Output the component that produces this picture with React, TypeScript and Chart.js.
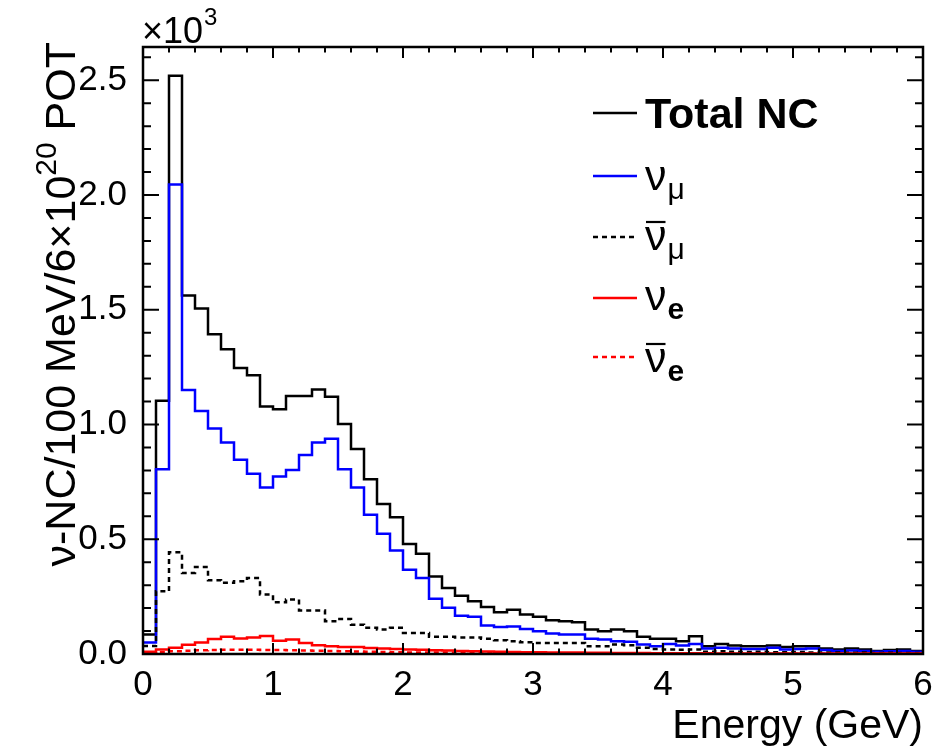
import React, { useEffect, useRef } from "react";
import { Chart, registerables } from "chart.js";

Chart.register(...registerables);

const FONT = "'Liberation Sans', Arial, Helvetica, sans-serif";

// Lower bin edges (GeV), 100 MeV bins
const binLowEdges = [
  0.0, 0.1, 0.2, 0.3, 0.4, 0.5, 0.6, 0.7, 0.8, 0.9,
  1.0, 1.1, 1.2, 1.3, 1.4, 1.5, 1.6, 1.7, 1.8, 1.9,
  2.0, 2.1, 2.2, 2.3, 2.4, 2.5, 2.6, 2.7, 2.8, 2.9,
  3.0, 3.1, 3.2, 3.3, 3.4, 3.5, 3.6, 3.7, 3.8, 3.9,
  4.0, 4.1, 4.2, 4.3, 4.4, 4.5, 4.6, 4.7, 4.8, 4.9,
  5.0, 5.1, 5.2, 5.3, 5.4, 5.5, 5.6, 5.7, 5.8, 5.9,
];
const xMaxEdge = 6.0;

// Values in units of 10^3
const totalNC = [
  0.085, 1.104, 2.52, 1.562, 1.505, 1.393, 1.328, 1.246, 1.215, 1.078,
  1.067, 1.124, 1.124, 1.153, 1.121, 1.002, 0.893, 0.762, 0.654, 0.596,
  0.479, 0.437, 0.338, 0.288, 0.254, 0.230, 0.205, 0.182, 0.193, 0.172,
  0.162, 0.147, 0.143, 0.138, 0.107, 0.099, 0.107, 0.099, 0.075, 0.066,
  0.066, 0.056, 0.077, 0.034, 0.044, 0.037, 0.034, 0.034, 0.037, 0.030,
  0.034, 0.034, 0.024, 0.020, 0.024, 0.020, 0.013, 0.017, 0.020, 0.013,
];

const numu = [
  0.05, 0.805, 2.046, 1.15, 1.059, 0.983, 0.922, 0.846, 0.785, 0.725,
  0.773, 0.802, 0.867, 0.922, 0.938, 0.805, 0.725, 0.607, 0.524, 0.451,
  0.367, 0.331, 0.241, 0.201, 0.167, 0.162, 0.124, 0.118, 0.120, 0.109,
  0.099, 0.089, 0.085, 0.085, 0.066, 0.063, 0.056, 0.053, 0.041, 0.034,
  0.044, 0.037, 0.044, 0.024, 0.027, 0.024, 0.022, 0.022, 0.027, 0.020,
  0.022, 0.024, 0.017, 0.013, 0.015, 0.013, 0.010, 0.012, 0.013, 0.010,
];

const numubar = [
  0.035, 0.273, 0.443, 0.353, 0.379, 0.321, 0.310, 0.317, 0.331, 0.259,
  0.225, 0.237, 0.190, 0.190, 0.143, 0.153, 0.128, 0.114, 0.107, 0.114,
  0.092, 0.092, 0.075, 0.075, 0.072, 0.072, 0.066, 0.060, 0.056, 0.051,
  0.048, 0.048, 0.048, 0.048, 0.034, 0.034, 0.041, 0.038, 0.027, 0.022,
  0.020, 0.018, 0.020, 0.010, 0.012, 0.010, 0.009, 0.010, 0.008, 0.008,
  0.009, 0.007, 0.006, 0.006, 0.005, 0.006, 0.004, 0.005, 0.004, 0.004,
];

const nue = [
  0.010, 0.020, 0.027, 0.040, 0.050, 0.065, 0.075, 0.068, 0.072, 0.078,
  0.058, 0.063, 0.048, 0.038, 0.034, 0.031, 0.031, 0.026, 0.024, 0.022,
  0.020, 0.018, 0.016, 0.015, 0.013, 0.012, 0.011, 0.010, 0.009, 0.008,
  0.008, 0.007, 0.006, 0.006, 0.005, 0.005, 0.004, 0.004, 0.004, 0.003,
  0.003, 0.003, 0.003, 0.003, 0.002, 0.002, 0.002, 0.002, 0.002, 0.002,
  0.002, 0.002, 0.002, 0.002, 0.002, 0.002, 0.002, 0.002, 0.002, 0.002,
];

const nuebar = [
  0.003, 0.008, 0.012, 0.014, 0.016, 0.017, 0.018, 0.018, 0.018, 0.017,
  0.017, 0.016, 0.015, 0.014, 0.013, 0.012, 0.011, 0.010, 0.009, 0.008,
  0.007, 0.007, 0.006, 0.006, 0.005, 0.005, 0.004, 0.004, 0.004, 0.003,
  0.003, 0.003, 0.003, 0.002, 0.002, 0.002, 0.002, 0.002, 0.002, 0.002,
  0.001, 0.001, 0.001, 0.001, 0.001, 0.001, 0.001, 0.001, 0.001, 0.001,
  0.001, 0.001, 0.001, 0.001, 0.001, 0.001, 0.001, 0.001, 0.001, 0.001,
];

const xTickLabels = ["0", "1", "2", "3", "4", "5", "6"];
const yTickLabels = ["0.0", "0.5", "1.0", "1.5", "2.0", "2.5"];

const BLUE = "#0000ff";
const RED = "#ff0000";
const BLACK = "#000000";

function toSteps(vals: number[]) {
  const pts = binLowEdges.map((x, i) => ({ x, y: vals[i] }));
  pts.push({ x: xMaxEdge, y: vals[vals.length - 1] });
  return pts;
}

const rootPlugin = {
  id: "rootStyle",
  afterDatasetsDraw(chart: any) {
    const { ctx, chartArea: a, scales } = chart;
    const x = scales.x;
    const y = scales.y;
    ctx.save();
    ctx.strokeStyle = BLACK;
    ctx.lineCap = "butt";

    // ticks
    ctx.lineWidth = 2;
    ctx.beginPath();
    for (let i = 0; i <= 30; i++) {
      const px = x.getPixelForValue(i * 0.2);
      const L = i % 5 === 0 ? 11 : 5.5;
      ctx.moveTo(px, a.bottom);
      ctx.lineTo(px, a.bottom - L);
      ctx.moveTo(px, a.top);
      ctx.lineTo(px, a.top + L);
    }
    for (let i = 0; i <= 30; i++) {
      const py = y.getPixelForValue(i * 0.1);
      if (py < a.top) break;
      const L = i % 5 === 0 ? 16 : 8;
      ctx.moveTo(a.left, py);
      ctx.lineTo(a.left + L, py);
      ctx.moveTo(a.right, py);
      ctx.lineTo(a.right - L, py);
    }
    ctx.stroke();

    // frame
    ctx.lineWidth = 2.5;
    ctx.strokeRect(a.left, a.top, a.right - a.left, a.bottom - a.top);

    ctx.fillStyle = BLACK;
    ctx.textBaseline = "alphabetic";

    // x10^3 multiplier
    ctx.textAlign = "left";
    ctx.font = `36px ${FONT}`;
    const base = "\u00d710";
    ctx.fillText(base, a.left - 1, 43);
    const bw = ctx.measureText(base).width;
    ctx.font = `24px ${FONT}`;
    ctx.fillText("3", a.left + bw, 25);

    // x-axis title
    ctx.font = `41px ${FONT}`;
    ctx.textAlign = "right";
    ctx.fillText("Energy (GeV)", a.right, 738);

    // y-axis title (rotated) with superscript
    ctx.save();
    ctx.translate(75, 42);
    ctx.rotate(-Math.PI / 2);
    const partA = "\u03bd-NC/100 MeV/6\u00d710";
    const partB = "20";
    const partC = " POT";
    ctx.font = `43px ${FONT}`;
    const wA = ctx.measureText(partA).width;
    const wC = ctx.measureText(partC).width;
    ctx.font = `30px ${FONT}`;
    const wB = ctx.measureText(partB).width;
    const total = wA + wB + wC;
    ctx.textAlign = "left";
    let cx = -total;
    ctx.font = `43px ${FONT}`;
    ctx.fillText(partA, cx, 0);
    cx += wA;
    ctx.font = `30px ${FONT}`;
    ctx.fillText(partB, cx, -19);
    cx += wB;
    ctx.font = `43px ${FONT}`;
    ctx.fillText(partC, cx, 0);
    ctx.restore();

    // legend
    const lx0 = 593;
    const lx1 = 637;
    const tx = 645;
    const drawSample = (yy: number, color: string, dashed: boolean) => {
      ctx.save();
      ctx.strokeStyle = color;
      ctx.lineWidth = 2.5;
      ctx.setLineDash(dashed ? [5, 4] : []);
      ctx.beginPath();
      ctx.moveTo(lx0, yy);
      ctx.lineTo(lx1, yy);
      ctx.stroke();
      ctx.restore();
    };
    const drawNu = (baseY: number, sub: string, subBold: boolean, bar: boolean) => {
      ctx.textAlign = "left";
      ctx.font = `43px ${FONT}`;
      ctx.fillText("\u03bd", tx, baseY);
      const wn = ctx.measureText("\u03bd").width;
      if (bar) {
        ctx.save();
        ctx.lineWidth = 2.2;
        ctx.strokeStyle = BLACK;
        ctx.beginPath();
        ctx.moveTo(tx + 1, baseY - 28);
        ctx.lineTo(tx + wn - 1, baseY - 28);
        ctx.stroke();
        ctx.restore();
      }
      ctx.font = `${subBold ? "bold " : ""}30px ${FONT}`;
      ctx.fillText(sub, tx + wn + 1, baseY + 9);
    };

    drawSample(113, BLACK, false);
    ctx.font = `bold 43px ${FONT}`;
    ctx.textAlign = "left";
    ctx.fillText("Total NC", tx, 128);

    drawSample(176, BLUE, false);
    drawNu(190, "\u03bc", false, false);

    drawSample(237, BLACK, true);
    drawNu(250, "\u03bc", false, true);

    drawSample(298, RED, false);
    drawNu(310, "e", true, false);

    drawSample(357, RED, true);
    drawNu(372, "e", true, true);

    ctx.restore();
  },
};

export default function App() {
  const canvasRef = useRef<HTMLCanvasElement | null>(null);

  useEffect(() => {
    document.body.style.margin = "0";
    const canvas = canvasRef.current;
    if (!canvas) return;

    const mk = (label: string, vals: number[], color: string, dashed: boolean, order: number) => ({
      label,
      data: toSteps(vals),
      borderColor: color,
      backgroundColor: color,
      borderWidth: 2.5,
      borderDash: dashed ? [5, 4] : [],
      stepped: "before" as const,
      pointRadius: 0,
      fill: false,
      order,
    });

    const chart = new Chart(canvas, {
      type: "line",
      data: {
        datasets: [
          mk("Total NC", totalNC, BLACK, false, 5),
          mk("\u03bd\u03bc", numu, BLUE, false, 4),
          mk("anti-\u03bd\u03bc", numubar, BLACK, true, 3),
          mk("\u03bde", nue, RED, false, 2),
          mk("anti-\u03bde", nuebar, RED, true, 1),
        ],
      },
      options: {
        responsive: false,
        animation: false,
        layout: { padding: { top: 47, right: 27, left: 0, bottom: 0 } },
        plugins: {
          legend: { display: false },
          tooltip: { enabled: false },
          title: { display: false },
        },
        scales: {
          x: {
            type: "linear",
            min: 0,
            max: 6,
            grid: { display: false, drawTicks: false },
            border: { display: false },
            ticks: {
              stepSize: 1,
              padding: 10,
              color: BLACK,
              font: { family: FONT, size: 35 },
              maxRotation: 0,
              callback: (v: any) => {
                const i = Math.round(Number(v));
                return xTickLabels[i] ?? "";
              },
            },
            afterFit: (s: any) => {
              s.height = 96;
            },
          },
          y: {
            type: "linear",
            min: 0,
            max: 2.645,
            grid: { display: false, drawTicks: false },
            border: { display: false },
            ticks: {
              stepSize: 0.5,
              includeBounds: false,
              padding: 16,
              color: BLACK,
              font: { family: FONT, size: 35 },
              callback: (v: any) => {
                const i = Math.round(Number(v) / 0.5);
                return yTickLabels[i] ?? "";
              },
            },
            afterFit: (s: any) => {
              s.width = 143;
            },
          },
        },
      },
      plugins: [rootPlugin],
    } as any);

    return () => {
      chart.destroy();
    };
  }, []);

  return (
    <div style={{ width: 950, height: 750, position: "relative", background: "#fff" }}>
      <canvas ref={canvasRef} width={950} height={750} style={{ display: "block" }} />
    </div>
  );
}
